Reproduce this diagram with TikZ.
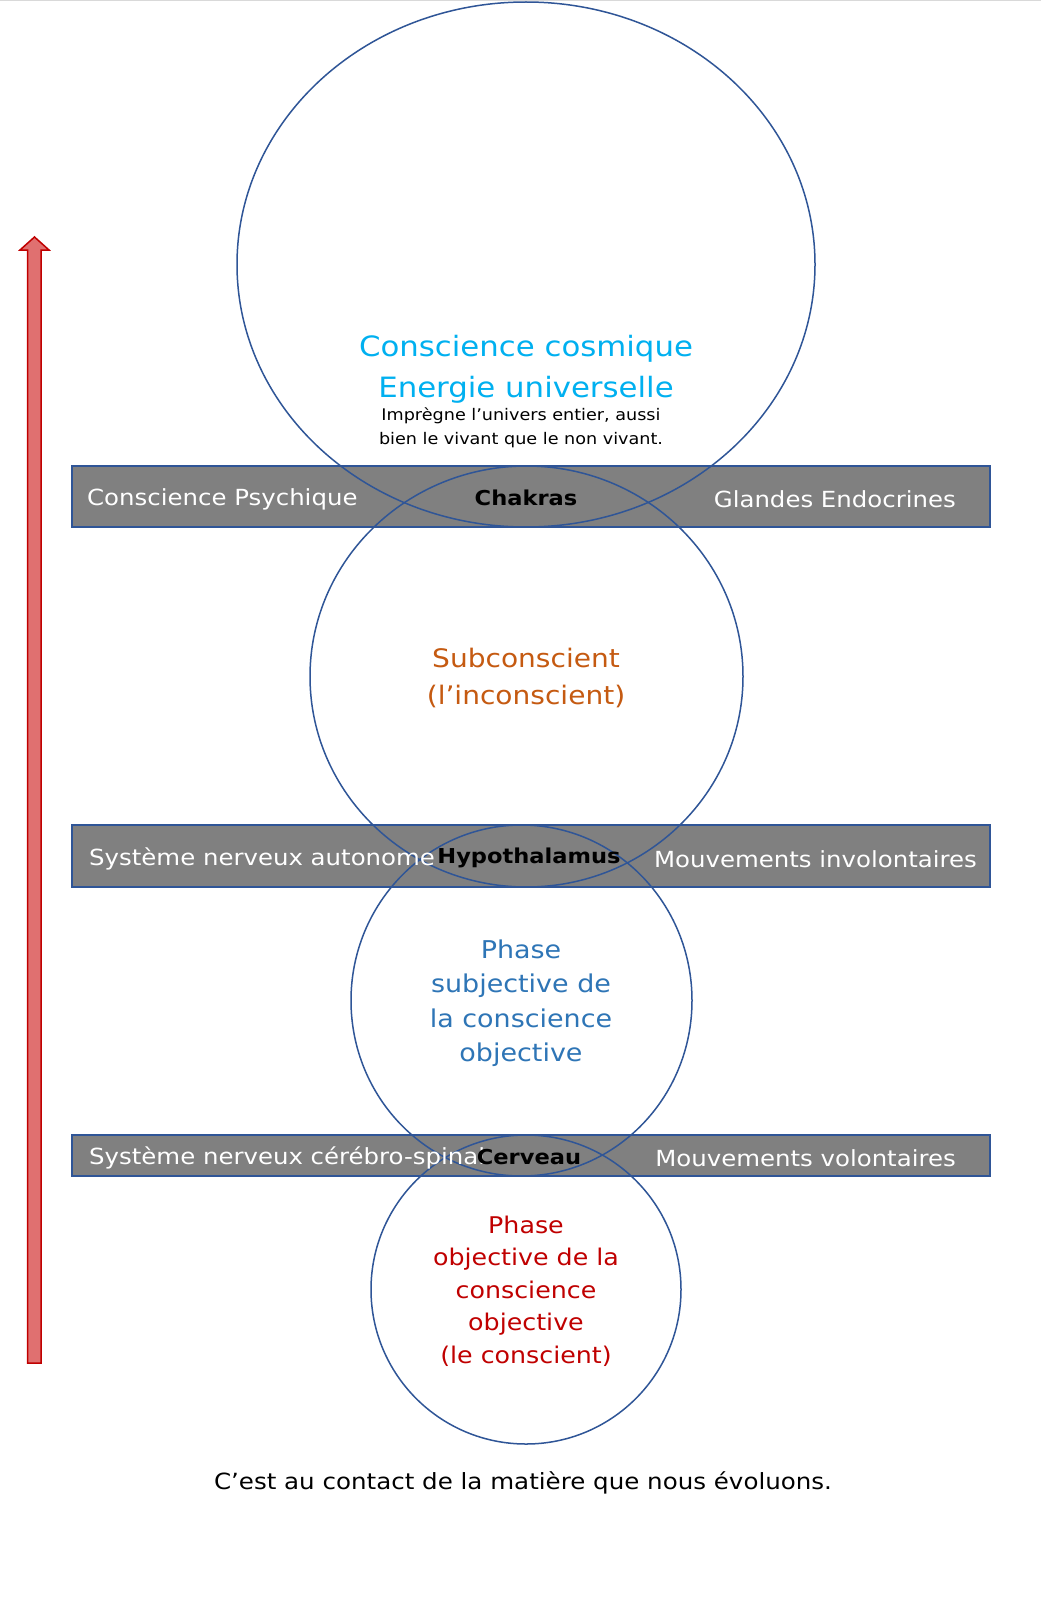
\documentclass[tikz,border=0pt]{standalone}
\usepackage{fontspec}
\setmainfont{DejaVu Sans}[FakeStretch=1.1]
\usetikzlibrary{shapes.geometric}
\definecolor{ringblue}{HTML}{2F5597}
\definecolor{bargray}{HTML}{808080}
\definecolor{cosmic}{HTML}{00B0F0}
\definecolor{subc}{HTML}{C55A11}
\definecolor{phaseblue}{HTML}{2E75B6}
\definecolor{phasered}{HTML}{C00000}
\definecolor{arrowfill}{HTML}{E07070}
\definecolor{arrowline}{HTML}{C00000}
\tikzset{
  ring/.style={ellipse, draw=ringblue, line width=1.5pt, inner sep=0pt},
  band/.style={rectangle, draw=ringblue, fill=bargray, line width=1.5pt, inner sep=0pt, minimum width=918pt},
  bandtxt/.style={text=white, font=\fontsize{22.2}{26}\selectfont, inner sep=0pt},
  keytxt/.style={text=black, font=\bfseries\fontsize{20.5}{26}\selectfont, inner sep=0pt},
}
\begin{document}
\begin{tikzpicture}[x=1pt,y=-1pt]
\useasboundingbox (0,0) rectangle (1041,1600);
\fill[white] (0,0) rectangle (1041,1600);
\draw[black!15, line width=1pt] (0,1) -- (1041,1);

% arrow
\draw[arrowline, fill=arrowfill, line width=1.5pt, line join=miter]
  (27.5,1363) -- (27.5,250) -- (20,250) -- (34.5,237) -- (49,250) -- (41,250) -- (41,1363) -- cycle;

% bands
\node[band, minimum height=61pt] (b1) at (531,496.5) {};
\node[band, minimum height=62pt] (b2) at (531,856) {};
\node[band, minimum height=41pt] (b3) at (531,1155.5) {};

% rings
\node[ring, minimum width=578pt, minimum height=525pt] (e1) at (526,264.5) {};
\node[ring, minimum width=433pt, minimum height=421pt] (e2) at (526.5,676.5) {};
\node[ring, minimum width=341pt, minimum height=351pt] (e3) at (521.5,1000.5) {};
\node[ring, minimum width=310pt, minimum height=309pt] (e4) at (526,1289.5) {};

% texts in rings
\node[text=cosmic, font=\fontsize{28}{41}\selectfont, align=center] (t1) at (526,369) {Conscience cosmique\\Energie universelle};
\node[font=\fontsize{16}{24}\selectfont, align=center] (t1b) at (521,428) {Imprègne l’univers entier, aussi\\bien le vivant que le non vivant.};
\node[text=subc, font=\fontsize{25.5}{37}\selectfont, align=center] (t2) at (526,678) {Subconscient\\(l’inconscient)};
\node[text=phaseblue, font=\fontsize{24.5}{34.5}\selectfont, align=center] (t3) at (521,1003) {Phase\\subjective de\\la conscience\\objective};
\node[text=phasered, font=\fontsize{23}{32.5}\selectfont, align=center] (t4) at (526,1291) {Phase\\objective de la\\conscience\\objective\\(le conscient)};
\node[font=\fontsize{22.3}{26}\selectfont] (t5) at (523,1483) {C’est au contact de la matière que nous évoluons.};

% band texts
\node[bandtxt, anchor=west] (l1) at (87,499) {Conscience Psychique};
\node[keytxt] (k1) at (526,498) {Chakras};
\node[bandtxt, anchor=east] (r1) at (956,499) {Glandes Endocrines};

\node[bandtxt, anchor=west] (l2) at (89,859) {Système nerveux autonome};
\node[keytxt] (k2) at (529,858) {Hypothalamus};
\node[bandtxt, anchor=east] (r2) at (977,859) {Mouvements involontaires};

\node[bandtxt, anchor=west] (l3) at (89,1158) {Système nerveux cérébro-spinal};
\node[keytxt] (k3) at (529,1157) {Cerveau};
\node[bandtxt, anchor=east] (r3) at (956,1158) {Mouvements volontaires};
\end{tikzpicture}
\end{document}
